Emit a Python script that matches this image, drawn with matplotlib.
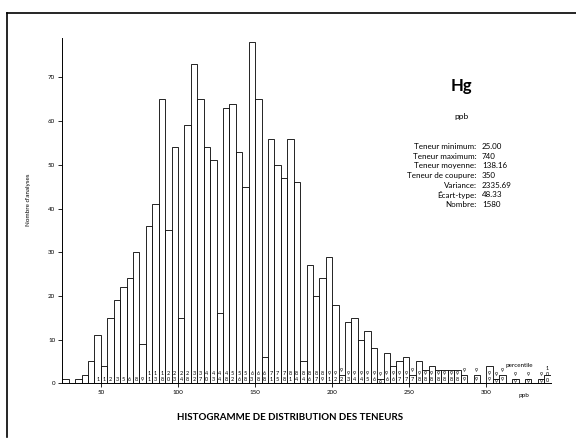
import numpy as np
import matplotlib.pyplot as plt
from matplotlib.lines import Line2D

# Class width: 12 classes per 50 ppb, first class starts at 25 ppb
start = 25.0
width = 50.0 / 12

# Number of analyses per class
counts = [1, 0, 1, 2, 5, 11, 4, 15, 19, 22, 24, 30, 9, 36, 41, 65, 35, 54, 15, 59,
          73, 65, 54, 51, 16, 63, 64, 53, 45, 78, 65, 6, 56, 50, 47, 56, 46, 5, 27, 20,
          24, 29, 18, 2, 14, 15, 10, 12, 8, 1, 7, 4, 5, 6, 2, 5, 3, 4, 3, 3,
          3, 3, 2, 0, 2, 0, 4, 1, 2, 0, 1, 0, 1, 0, 1, 2]

# Cumulative percentile printed in each bar
percentiles = ["", "", "", "", "", "1", "1", "2", "3", "5", "6", "8", "9", "11", "13",
               "18", "20", "23", "24", "28", "32", "37", "40", "43", "44", "48", "52",
               "56", "58", "63", "68", "68", "71", "75", "78", "81", "84", "84", "86",
               "87", "89", "91", "92", "92", "93", "94", "94", "95", "96", "96", "96",
               "96", "97", "97", "97", "98", "98", "98", "98", "98", "98", "98", "99",
               "", "99", "", "99", "99", "99", "", "99", "", "99", "", "99", "100"]

yticks = [0, 10, 20, 30, 40, 50, 60, 70]
xticks = [50, 100, 150, 200, 250, 300]

stat_names = ["Teneur minimum:", "Teneur maximum:", "Teneur moyenne:",
              "Teneur de coupure:", "Variance:", "Écart-type:", "Nombre:"]
stat_values = ["25.00", "740", "138.16", "350", "2335.69", "48.33", "1580"]

plt.rcParams['font.family'] = ['Lato', 'DejaVu Sans']

W, H = 576, 443
fig = plt.figure(figsize=(W / 100, H / 100), dpi=100)
fig.patch.set_facecolor('white')

edges = start + width * np.arange(len(counts))
x_end = start + width * len(counts)

ax = fig.add_axes([62.3 / W, (H - 383.3) / H, 488.4 / W, 345.2 / H])
ax.bar(edges, counts, width=width, align='edge', facecolor='white',
       edgecolor='black', linewidth=0.6)

for x0, h, s in zip(edges, counts, percentiles):
    if not s:
        continue
    xc = x0 + width / 2
    if s == "100":
        for i, d in enumerate(s[::-1]):
            ax.text(xc, 0.7 + i * 1.4, d, ha='center', va='center', fontsize=4)
        continue
    low = 0.8 if h >= 2 else 0.5
    ax.text(xc, low, s[-1], ha='center', va='center', fontsize=4)
    if len(s) == 2:
        top = 2.2 if h >= 3 else h + 0.9
        if h == 1:
            top = 2.1
        ax.text(xc, top, s[0], ha='center', va='center', fontsize=4)

ax.set_xlim(start, x_end)
ax.set_ylim(0, 79)
ax.set_xticks(xticks)
ax.set_yticks(yticks)
ax.tick_params(labelsize=4.5, length=3, width=0.6, pad=2, direction='out')
for side in ['top', 'right']:
    ax.spines[side].set_visible(False)
for side in ['left', 'bottom']:
    ax.spines[side].set_linewidth(0.7)

ax.set_ylabel("Nombre d'analyses", fontsize=4.5)
ax.yaxis.set_label_coords(-0.064, 0.531)

# text on the right side
fig.text(461.5 / W, 1 - 86 / H, "Hg", ha='center', va='center',
         fontsize=12, fontweight='bold')
fig.text(461.5 / W, 1 - 116 / H, "ppb", ha='center', va='center', fontsize=6)
for i, (n, v) in enumerate(zip(stat_names, stat_values)):
    y = 1 - (146.3 + i * 9.73) / H
    fig.text(476.5 / W, y, n, ha='right', va='center', fontsize=5.8)
    fig.text(482 / W, y, v, ha='left', va='center', fontsize=5.8)

fig.text(519.5 / W, 1 - 365 / H, "percentile", ha='center', va='center', fontsize=4.5)
fig.text(524 / W, 1 - 395 / H, "ppb", ha='center', va='center', fontsize=4.5)

fig.text(290 / W, 1 - 418 / H, "HISTOGRAMME DE DISTRIBUTION DES TENEURS",
         ha='center', va='center', fontsize=7, fontweight='bold')

# frame of the page
fig.add_artist(Line2D([6.5 / W, 6.5 / W], [1 - 437 / H, 1 - 12.5 / H],
                      color='black', linewidth=1.2))
fig.add_artist(Line2D([6.5 / W, 1.0], [1 - 12.5 / H, 1 - 12.5 / H],
                      color='black', linewidth=1.2))

fig.savefig('out.png', dpi=100, facecolor='white')
